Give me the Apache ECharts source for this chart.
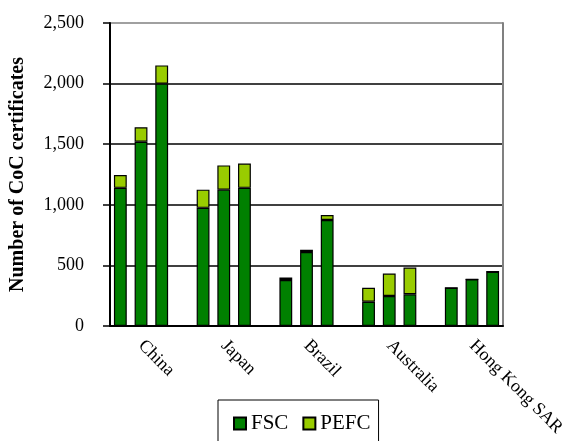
<!DOCTYPE html>
<html>
<head>
<meta charset="utf-8">
<script src="https://cdn.jsdelivr.net/npm/echarts@6/dist/echarts.min.js"></script>
<style>html,body{margin:0;padding:0;background:#fff}#c{width:568px;height:441px}</style>
</head>
<body>
<div id="c"></div>
<script>
const countries = ['China', 'Japan', 'Brazil', 'Australia', 'Hong Kong SAR'];
const fscValues = [1140, 1520, 2000, 975, 1125, 1140, 380, 610, 875, 200, 248, 262, 315, 385, 448];
const pefcValues = [105, 120, 150, 150, 200, 200, 20, 20, 40, 115, 185, 220, 0, 0, 0];
const yMin = 0, yMax = 2500, yStep = 500;

const cats = [], fscData = [], pefcData = [];
countries.forEach((c, i) => {
  for (let k = 0; k < 3; k++) {
    cats.push(k === 1 ? c : c + '|' + k);
    fscData.push(fscValues[i * 3 + k]);
    pefcData.push(pefcValues[i * 3 + k]);
  }
  if (i < countries.length - 1) { cats.push('gap' + i); fscData.push('-'); pefcData.push('-'); }
});

const font = 'Liberation Serif';
const chart = echarts.init(document.getElementById('c'));
chart.setOption({
  animation: false,
  grid: { left: 108, right: 65, top: 23, bottom: 115 },
  legend: {
    data: ['FSC', 'PEFC'],
    left: 218, top: 400,
    padding: [13, 8, 14, 15],
    itemWidth: 12, itemHeight: 12, itemGap: 14,
    borderColor: '#000', borderWidth: 1, backgroundColor: '#fff',
    icon: 'rect',
    textStyle: { fontFamily: font, fontSize: 21, color: '#000', padding: [0, 0, 0, 0] }
  },
  xAxis: {
    type: 'category', data: cats, boundaryGap: true,
    axisLine: { lineStyle: { color: '#000', width: 2 } },
    axisTick: { interval: 0, length: 5, lineStyle: { color: '#000', width: 1.5 } },
    axisLabel: {
      interval: 0, rotate: -45, margin: 17,
      fontFamily: font, fontSize: 18, color: '#000',
      formatter: v => countries.includes(v) ? v : ''
    },
    splitLine: { show: false }
  },
  yAxis: [{
    type: 'value', min: yMin, max: yMax, interval: yStep,
    name: 'Number of CoC certificates', nameLocation: 'middle', nameGap: 82,
    nameTextStyle: { fontFamily: font, fontSize: 20, fontWeight: 'bold', color: '#000' },
    axisLine: { show: true, lineStyle: { color: '#000', width: 2 } },
    axisTick: { show: true, length: 7, lineStyle: { color: '#000', width: 1.5 } },
    axisLabel: { margin: 26, fontFamily: font, fontSize: 18, color: '#000',
      formatter: v => v.toLocaleString('en-US') },
    splitLine: { show: true, lineStyle: { color: ['#000', '#000', '#000', '#000', '#000', '#808080'], width: 1.5 } }
  }, {
    type: 'value', position: 'right', min: yMin, max: yMax, interval: yStep,
    axisLine: { show: true, lineStyle: { color: '#808080', width: 2 } },
    axisTick: { show: false }, axisLabel: { show: false }, splitLine: { show: false }
  }],
  series: [{
    name: 'FSC', type: 'bar', stack: 'total', data: fscData, barWidth: '62%',
    itemStyle: { color: '#008000', borderColor: '#000', borderWidth: 1.2 }
  }, {
    name: 'PEFC', type: 'bar', stack: 'total', data: pefcData, barWidth: '62%',
    itemStyle: { color: '#99CC00', borderColor: '#000', borderWidth: 1.2 }
  }]
});
</script>
</body>
</html>
